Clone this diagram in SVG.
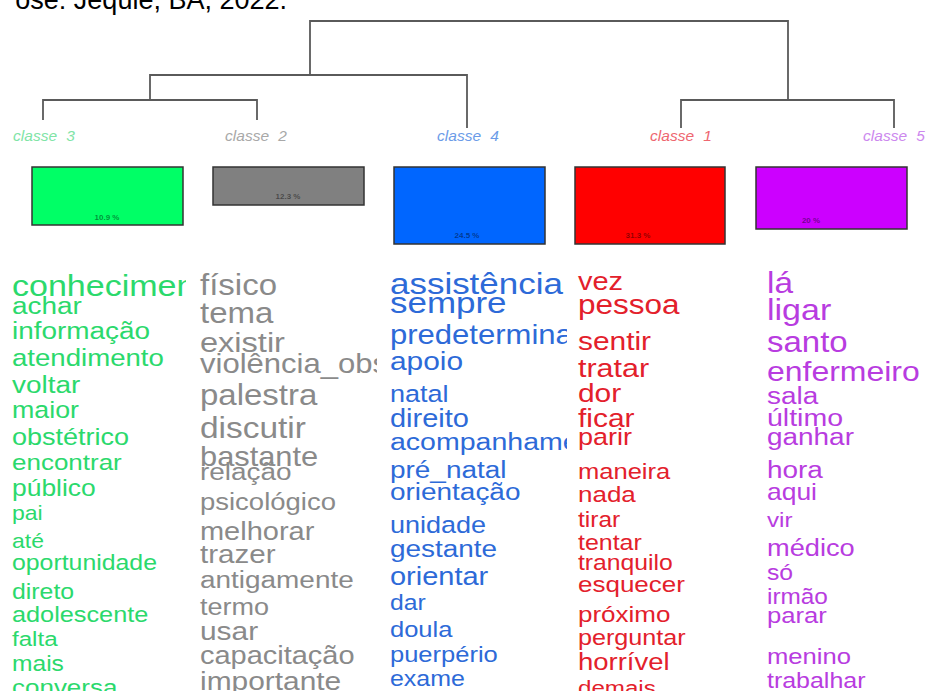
<svg xmlns="http://www.w3.org/2000/svg" width="928" height="691" viewBox="0 0 928 691">
<style>
text{font-family:"Liberation Sans",Arial,sans-serif}
.cl{font-size:15.5px;font-style:italic;text-anchor:middle;word-spacing:5px}
.pct{font-size:8px;font-weight:bold;text-anchor:middle;fill:#000;fill-opacity:0.45}
.box{stroke:#333;stroke-width:1.5}
.den{fill:none;stroke:#5a5a5a;stroke-width:1.8}
.g{fill:#2bd96c}.k{fill:#8a8a8a}.b{fill:#2d6ad8}.r{fill:#e3202b}.p{fill:#b83ce0}
</style>
<defs>
<clipPath id="c3"><rect x="0" y="250" width="186" height="441"/></clipPath>
<clipPath id="c2"><rect x="190" y="250" width="187" height="441"/></clipPath>
<clipPath id="c4"><rect x="380" y="250" width="187" height="441"/></clipPath>
<clipPath id="c1"><rect x="570" y="250" width="188" height="441"/></clipPath>
<clipPath id="c5"><rect x="760" y="250" width="168" height="441"/></clipPath>
</defs>
<rect width="928" height="691" fill="#fff"/>
<text x="287" y="9" font-size="27" text-anchor="end" fill="#000">ose: Jequié, BA, 2022.</text>
<g id="connectors" class="den">
<path d="M310 75V21H788V100"/>
<path d="M150 100V75H467V128"/>
<path d="M43 120V100H257V120"/>
<path d="M681 128V100H894V128"/>
</g>
<g id="classe3">
<text class="cl" x="44" y="141" fill="#80e4a6">classe 3</text>
<rect class="box" x="32" y="167" width="151" height="58" fill="#00ff66"/>
<text class="pct" x="107" y="220">10.9 %</text>
<g clip-path="url(#c3)"><g class="g" transform="translate(12 0) scale(1.15 1) translate(-12 0)">
<text x="12" y="296" font-size="29.6">conhecimento</text>
<text x="12" y="314" font-size="24.3">achar</text>
<text x="12" y="339" font-size="24.3">informação</text>
<text x="12" y="366" font-size="24">atendimento</text>
<text x="12" y="393" font-size="24.3">voltar</text>
<text x="12" y="418" font-size="23.3">maior</text>
<text x="12" y="445" font-size="23.5">obstétrico</text>
<text x="12" y="470" font-size="22.6">encontrar</text>
<text x="12" y="496" font-size="23">público</text>
<text x="12" y="520" font-size="20">pai</text>
<text x="12" y="548" font-size="20">até</text>
<text x="12" y="570" font-size="21.6">oportunidade</text>
<text x="12" y="599" font-size="21.6">direto</text>
<text x="12" y="622" font-size="22">adolescente</text>
<text x="12" y="646" font-size="21">falta</text>
<text x="12" y="671" font-size="21.4">mais</text>
<text x="12" y="695" font-size="22.6">conversa</text>
</g></g>
</g>
<g id="classe2">
<text class="cl" x="256" y="141" fill="#a8a8a8">classe 2</text>
<rect class="box" x="213" y="167" width="151" height="38" fill="#808080"/>
<text class="pct" x="288" y="199">12.3 %</text>
<g clip-path="url(#c2)"><g class="k" transform="translate(200 0) scale(1.15 1) translate(-200 0)">
<text x="200" y="295" font-size="28.7">físico</text>
<text x="200" y="323" font-size="28.7">tema</text>
<text x="200" y="352" font-size="28.3">existir</text>
<text x="200" y="373" font-size="27">violência_obstétrica</text>
<text x="200" y="405" font-size="28.7">palestra</text>
<text x="200" y="438" font-size="29.1">discutir</text>
<text x="200" y="466" font-size="26.8">bastante</text>
<text x="200" y="480" font-size="24.3">relação</text>
<text x="200" y="510" font-size="23.9">psicológico</text>
<text x="200" y="540" font-size="25.2">melhorar</text>
<text x="200" y="563" font-size="25.7">trazer</text>
<text x="200" y="588" font-size="24.3">antigamente</text>
<text x="200" y="615" font-size="23.5">termo</text>
<text x="200" y="640" font-size="26">usar</text>
<text x="200" y="664" font-size="25.2">capacitação</text>
<text x="200" y="690" font-size="26">importante</text>
</g></g>
</g>
<g id="classe4">
<text class="cl" x="468" y="141" fill="#6b9be8">classe 4</text>
<rect class="box" x="394" y="167" width="151" height="77" fill="#0066ff"/>
<text class="pct" x="467" y="238">24.5 %</text>
<g clip-path="url(#c4)"><g class="b" transform="translate(390 0) scale(1.15 1) translate(-390 0)">
<text x="390" y="294" font-size="30.4">assistência</text>
<text x="390" y="313" font-size="30.4">sempre</text>
<text x="390" y="344" font-size="27">predeterminada</text>
<text x="390" y="370" font-size="26">apoio</text>
<text x="390" y="402" font-size="23.5">natal</text>
<text x="390" y="427" font-size="25.2">direito</text>
<text x="390" y="450" font-size="24.8">acompanhamento</text>
<text x="390" y="478" font-size="24.3">pré_natal</text>
<text x="390" y="500" font-size="24.3">orientação</text>
<text x="390" y="533" font-size="23.5">unidade</text>
<text x="390" y="557" font-size="24.3">gestante</text>
<text x="390" y="585" font-size="25.2">orientar</text>
<text x="390" y="610" font-size="21.5">dar</text>
<text x="390" y="637" font-size="22.2">doula</text>
<text x="390" y="662" font-size="22.2">puerpério</text>
<text x="390" y="686" font-size="21.7">exame</text>
</g></g>
</g>
<g id="classe1">
<text class="cl" x="681" y="141" fill="#ee6670">classe 1</text>
<rect class="box" x="575" y="167" width="150" height="77" fill="#ff0000"/>
<text class="pct" x="638" y="238">31.3 %</text>
<g clip-path="url(#c1)"><g class="r" transform="translate(578 0) scale(1.15 1) translate(-578 0)">
<text x="578" y="290" font-size="25.2">vez</text>
<text x="578" y="314" font-size="27.4">pessoa</text>
<text x="578" y="350" font-size="26">sentir</text>
<text x="578" y="377" font-size="26.5">tratar</text>
<text x="578" y="402" font-size="26">dor</text>
<text x="578" y="427" font-size="26">ficar</text>
<text x="578" y="445" font-size="23.5">parir</text>
<text x="578" y="479" font-size="22.2">maneira</text>
<text x="578" y="502" font-size="22.6">nada</text>
<text x="578" y="527" font-size="21.3">tirar</text>
<text x="578" y="550" font-size="21.7">tentar</text>
<text x="578" y="570" font-size="21.5">tranquilo</text>
<text x="578" y="592" font-size="22.6">esquecer</text>
<text x="578" y="622" font-size="22.6">próximo</text>
<text x="578" y="645" font-size="21.9">perguntar</text>
<text x="578" y="670" font-size="23.9">horrível</text>
<text x="578" y="695" font-size="21">demais</text>
</g></g>
</g>
<g id="classe5">
<text class="cl" x="894" y="141" fill="#cc88ee">classe 5</text>
<rect class="box" x="756" y="167" width="151" height="62" fill="#cc00ff"/>
<text class="pct" x="811" y="223">20 %</text>
<g clip-path="url(#c5)"><g class="p" transform="translate(767 0) scale(1.15 1) translate(-767 0)">
<text x="767" y="293" font-size="29">lá</text>
<text x="767" y="320" font-size="29.6">ligar</text>
<text x="767" y="352" font-size="28.7">santo</text>
<text x="767" y="381" font-size="27.8">enfermeiro</text>
<text x="767" y="404" font-size="24.3">sala</text>
<text x="767" y="426" font-size="24.8">último</text>
<text x="767" y="445" font-size="24.3">ganhar</text>
<text x="767" y="478" font-size="24.3">hora</text>
<text x="767" y="500" font-size="23">aqui</text>
<text x="767" y="527" font-size="21">vir</text>
<text x="767" y="556" font-size="23.7">médico</text>
<text x="767" y="580" font-size="21.5">só</text>
<text x="767" y="604" font-size="21.2">irmão</text>
<text x="767" y="623" font-size="22.3">parar</text>
<text x="767" y="664" font-size="22.3">menino</text>
<text x="767" y="688" font-size="21.7">trabalhar</text>
</g></g>
</g>
</svg>
